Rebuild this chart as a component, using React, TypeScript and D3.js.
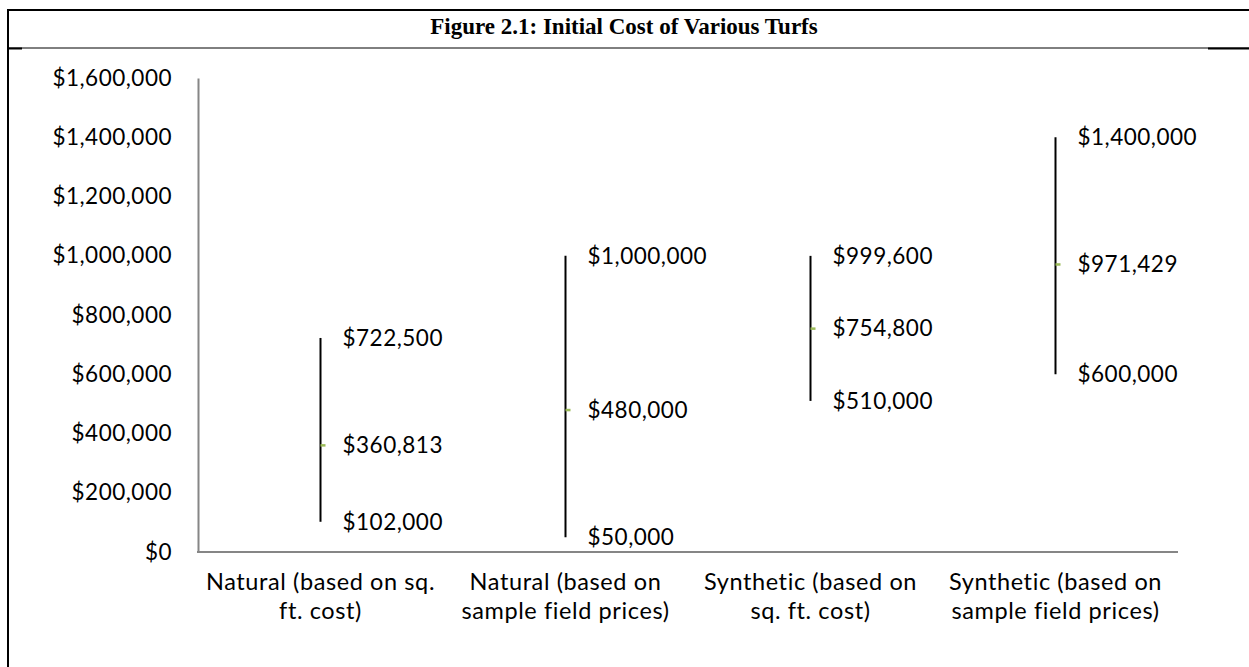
import React, { useEffect, useRef } from "react";
import * as d3 from "d3";

const categories = [
  ["Natural (based on sq.", "ft. cost)"],
  ["Natural (based on", "sample field prices)"],
  ["Synthetic (based on", "sq. ft. cost)"],
  ["Synthetic (based on", "sample field prices)"],
];
const highValues = [722500, 1000000, 999600, 1400000];
const lowValues = [102000, 50000, 510000, 600000];
const meanValues = [360813, 480000, 754800, 971429];
const yTicks = [0, 200000, 400000, 600000, 800000, 1000000, 1200000, 1400000, 1600000];

const title = "Figure 2.1: Initial Cost of Various Turfs";

export default function App() {
  const ref = useRef<SVGSVGElement>(null);

  useEffect(() => {
    const svg = d3.select(ref.current);
    svg.selectAll("*").remove();

    const width = 1249;
    const height = 667;
    const font = "Lato, 'Open Sans', sans-serif";
    const numSize = 22.5;
    const numSpacing = 0.5;
    const catSize = 23.5;
    const catSpacing = 0.6;

    // frame around the figure
    svg.append("line").attr("x1", 7).attr("x2", width).attr("y1", 10).attr("y2", 10)
      .attr("stroke", "#000").attr("stroke-width", 2);
    svg.append("line").attr("x1", 8).attr("x2", 8).attr("y1", 9).attr("y2", height)
      .attr("stroke", "#000").attr("stroke-width", 2);
    svg.append("line").attr("x1", 9).attr("x2", width).attr("y1", 48).attr("y2", 48)
      .attr("stroke", "#000").attr("stroke-width", 1);
    svg.append("line").attr("x1", 9).attr("x2", 22).attr("y1", 48.5).attr("y2", 48.5)
      .attr("stroke", "#000").attr("stroke-width", 2);
    svg.append("line").attr("x1", 1208).attr("x2", width).attr("y1", 48.5).attr("y2", 48.5)
      .attr("stroke", "#000").attr("stroke-width", 2);

    svg.append("text")
      .attr("x", 624).attr("y", 34)
      .attr("text-anchor", "middle")
      .attr("font-family", "'Liberation Serif', 'Times New Roman', serif")
      .attr("font-weight", "bold")
      .attr("font-size", 23)
      .text(title);

    const margin = { left: 198, right: 1178, top: 78, bottom: 552 };

    const x = d3.scaleBand<number>()
      .domain(d3.range(categories.length))
      .range([margin.left, margin.right]);

    const y = d3.scaleLinear()
      .domain([0, 1600000])
      .range([margin.bottom, margin.top]);

    const money = (v: number) => "$" + d3.format(",")(v);

    // axes
    const yAxis = svg.append("g")
      .attr("transform", `translate(${margin.left},0)`)
      .call(d3.axisLeft(y).tickValues(yTicks).tickSize(0).tickPadding(26).tickFormat((d) => money(+d)));
    yAxis.select(".domain").attr("stroke", "#868686").attr("stroke-width", 2);
    yAxis.selectAll("text")
      .attr("font-family", font).attr("font-size", numSize)
      .attr("letter-spacing", numSpacing).attr("fill", "#000");

    svg.append("line")
      .attr("x1", margin.left - 1).attr("x2", margin.right)
      .attr("y1", margin.bottom).attr("y2", margin.bottom)
      .attr("stroke", "#868686").attr("stroke-width", 2);

    // category labels
    categories.forEach((lines, i) => {
      const t = svg.append("text")
        .attr("text-anchor", "middle")
        .attr("font-family", font)
        .attr("font-size", catSize)
        .attr("letter-spacing", catSpacing)
        .attr("x", x(i)! + x.bandwidth() / 2)
        .attr("y", 590);
      lines.forEach((l, j) => {
        t.append("tspan")
          .attr("x", x(i)! + x.bandwidth() / 2)
          .attr("dy", j === 0 ? 0 : 29)
          .text(l);
      });
    });

    // high-low lines
    const cx = (i: number) => x(i)! + x.bandwidth() / 2;
    svg.selectAll(".hl")
      .data(categories.map((_, i) => i))
      .enter()
      .append("line")
      .attr("x1", (i) => cx(i)).attr("x2", (i) => cx(i))
      .attr("y1", (i) => y(highValues[i])).attr("y2", (i) => y(lowValues[i]))
      .attr("stroke", "#000").attr("stroke-width", 2);

    // mean markers
    svg.selectAll(".mean")
      .data(categories.map((_, i) => i))
      .enter()
      .append("rect")
      .attr("x", (i) => cx(i))
      .attr("y", (i) => y(meanValues[i]) - 1)
      .attr("width", 5).attr("height", 2.5)
      .attr("fill", "#9bbb59");

    // value labels
    const labels: { i: number; v: number }[] = [];
    categories.forEach((_, i) => {
      labels.push({ i, v: highValues[i] }, { i, v: meanValues[i] }, { i, v: lowValues[i] });
    });
    svg.selectAll(".lbl")
      .data(labels)
      .enter()
      .append("text")
      .attr("x", (d) => cx(d.i) + 22)
      .attr("y", (d) => y(d.v))
      .attr("dy", "0.35em")
      .attr("font-family", font)
      .attr("font-size", numSize)
      .attr("letter-spacing", numSpacing)
      .text((d) => money(d.v));
  }, []);

  return (
    <svg
      ref={ref}
      width={1249}
      height={667}
      style={{ position: "absolute", left: 0, top: 0, background: "#fff" }}
    />
  );
}
